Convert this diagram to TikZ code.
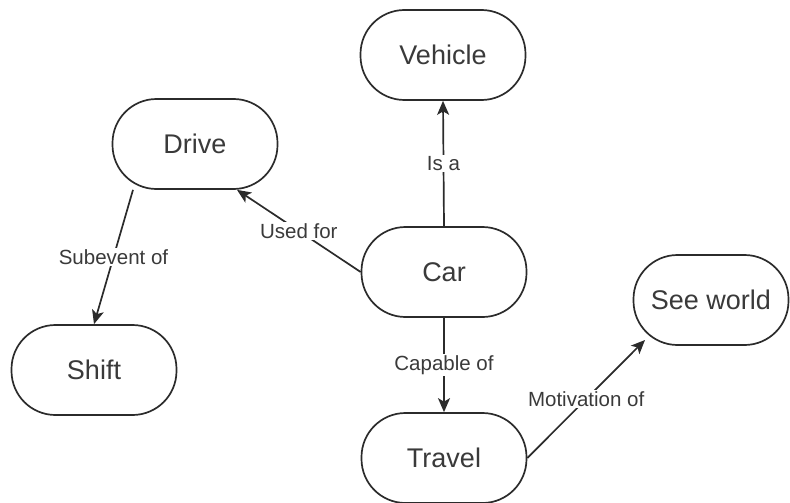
\documentclass[tikz,border=0pt]{standalone}
\usepackage{fontspec}
\setmainfont{Liberation Sans}
\usetikzlibrary{arrows.meta,calc}
\definecolor{ink}{HTML}{2B2B2B}
\definecolor{txt}{HTML}{3A3A3A}
\begin{document}
\begin{tikzpicture}[x=1pt,y=-1pt,
  concept/.style={draw=ink, line width=1.7pt, fill=white, rectangle,
    rounded corners=44pt, minimum width=165pt, minimum height=90pt,
    inner sep=0pt, text=txt, font=\fontsize{27}{31}\selectfont},
  rel/.style={draw=ink, line width=1.7pt, -{Stealth[length=14pt,width=12pt,inset=3.5pt]}},
  tag/.style={fill=white, text=txt, inner sep=1.5pt, font=\fontsize{20.5}{23}\selectfont}]
  \useasboundingbox (0,0) rectangle (790,503);

  % concepts
  \node[concept] (vehicle) at (443,55)  {Vehicle};
  \node[concept] (drive)   at (195,144) {Drive};
  \node[concept] (car)     at (444,272) {Car};
  \node[concept] (shift)   at (94,370)  {Shift};
  \node[concept, minimum width=155pt] (seew) at (711,300) {See world};
  \node[concept] (travel)  at (444,458) {Travel};

  % relations
  \draw[rel] (car.north) -- node[tag] {Is a} (vehicle.south);
  \draw[rel] (car.west) -- node[tag] {Used for} ($(drive.south)+(42,0)$);
  \draw[rel] ($(drive.south)+(-62,0)$) -- node[tag] {Subevent of} (shift.north);
  \draw[rel] (car.south) -- node[tag] {Capable of} (travel.north);
  \draw[rel] (travel.east) -- node[tag] {Motivation of} ($(seew.center)+(-66,40)$);
\end{tikzpicture}
\end{document}
